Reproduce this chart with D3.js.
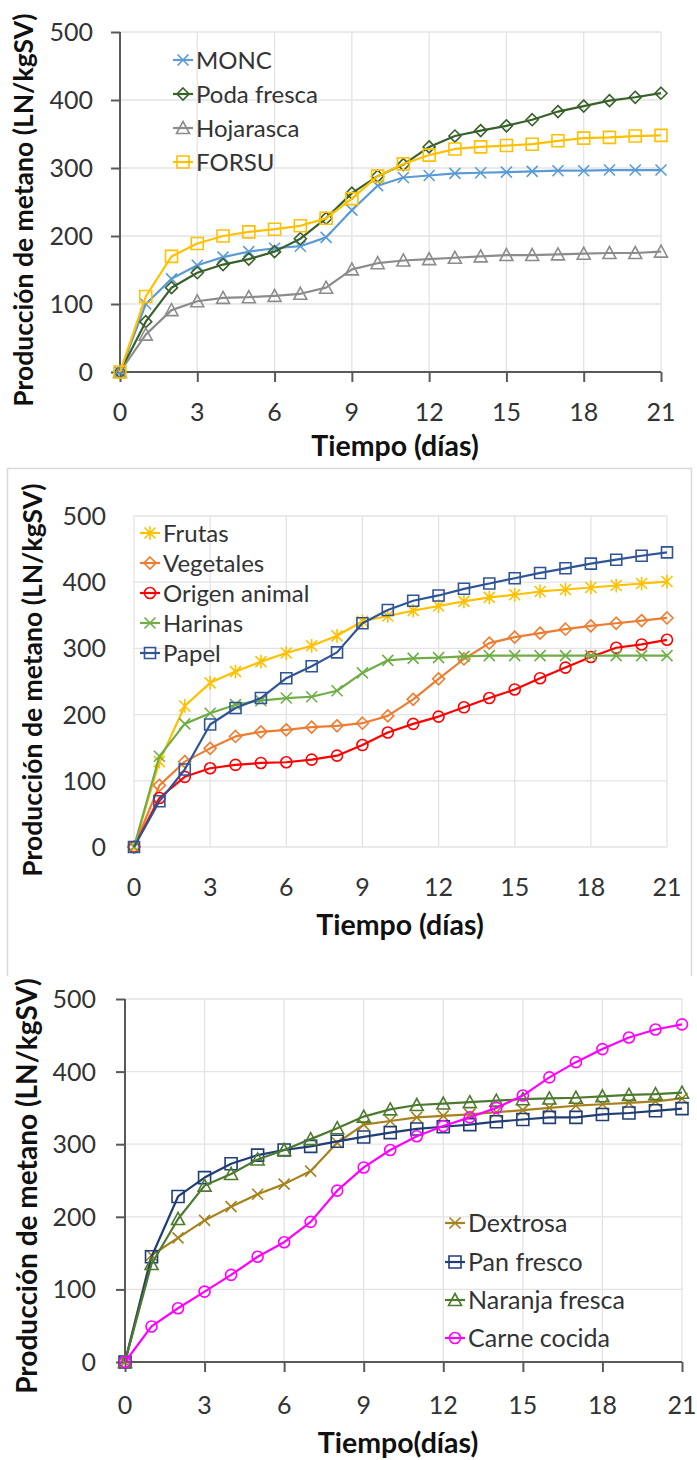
<!DOCTYPE html>
<html>
<head>
<meta charset="utf-8">
<script src="https://cdn.jsdelivr.net/npm/d3@7"></script>
<style>
  html, body { margin: 0; padding: 0; background: #fff; }
  svg { display: block; font-family: Lato, "Open Sans", sans-serif; }
</style>
</head>
<body>
<svg id="chart" width="697" height="1460"></svg>
<script>
// ---------- DATA ----------
const days = [0,1,2,3,4,5,6,7,8,9,10,11,12,13,14,15,16,17,18,19,20,21];
const xTicks = [0,3,6,9,12,15,18,21];
const yTicks = [0,100,200,300,400,500];

// Panel 1
const monc        = [0,100,137,157,169,177,182,185,198,238,274,286,289,292,293,294,295,296,296,297,297,297];
const podaFresca  = [0,74,124,146,158,166,177,196,226,263,288,305,331,347,355,362,371,383,391,399,404,410];
const hojarasca   = [0,55,91,104,109,110,112,115,124,151,160,164,166,168,170,172,172,173,174,175,175,177];
const forsu       = [0,111,170,189,200,206,210,215,226,255,288,306,319,328,331,333,335,340,344,345,347,348];

// Panel 2
const frutas       = [0,129,213,248,265,280,293,304,319,341,349,357,364,371,377,381,386,389,392,395,398,401];
const vegetales    = [0,93,129,149,167,174,177,181,183,187,198,223,254,284,308,317,323,329,334,338,342,346];
const origenAnimal = [0,74,106,119,124,127,128,132,138,154,173,186,197,211,225,238,255,271,287,301,306,313];
const harinas      = [0,137,186,202,215,221,225,227,236,263,282,285,286,288,289,289,289,289,289,289,289,289];
const papel        = [0,69,117,185,210,225,255,273,294,338,358,372,380,390,398,406,414,421,428,434,440,445];

// Panel 3
const dextrosa      = [0,147,171,195,214,231,245,263,302,327,332,337,339,341,344,347,350,353,355,357,359,363];
const panFresco     = [0,145,228,254,273,285,292,297,304,310,316,321,324,327,331,334,337,337,341,343,346,349];
const naranjaFresca = [0,135,197,243,259,279,292,307,322,338,348,354,356,358,360,362,363,364,366,368,369,371];
const carneCocida   = [0,49,74,97,120,145,165,193,236,268,292,311,325,337,350,367,392,413,431,447,458,465];

const yTitle = "Producción de metano (LN/kgSV)";

// ---------- DRAWING ----------
const svg = d3.select("#chart");

function markerPath(shape, r) {
  switch (shape) {
    case "square":   return `M${-r},${-r}H${r}V${r}H${-r}Z`;
    case "diamond":  return `M0,${-r}L${r},0L0,${r}L${-r},0Z`;
    case "triangle": return `M0,${-r}L${r},${r*0.85}L${-r},${r*0.85}Z`;
    case "circle":   return `M${r},0A${r},${r} 0 1,1 ${-r},0A${r},${r} 0 1,1 ${r},0Z`;
    case "x":        return `M${-r},${-r}L${r},${r}M${-r},${r}L${r},${-r}`;
    case "star":     return `M${-r},${-r}L${r},${r}M${-r},${r}L${r},${-r}M0,${-r*1.25}L0,${r*1.25}`;
  }
}

function drawPanel(p) {
  const g = svg.append("g");
  const x = d3.scaleLinear().domain([0, 21]).range([p.x0, p.x1]);
  const y = d3.scaleLinear().domain([0, 500]).range([p.y0, p.y1]);

  // gridlines
  g.append("g").selectAll("line").data(yTicks.filter(v => p.style === "light" || v > 0)).join("line")
    .attr("x1", p.x0).attr("x2", p.x1)
    .attr("y1", d => y(d)).attr("y2", d => y(d))
    .attr("stroke", "#e3e3e3").attr("stroke-width", 1.3);
  g.append("g").selectAll("line").data(xTicks.filter(v => p.style === "light" || v > 0)).join("line")
    .attr("x1", d => x(d)).attr("x2", d => x(d))
    .attr("y1", p.y0).attr("y2", p.y1)
    .attr("stroke", "#e3e3e3").attr("stroke-width", 1.3);

  if (p.style === "dark") {
    const yAxis = g.append("g").attr("transform", `translate(${p.x0},0)`)
      .call(d3.axisLeft(y).tickValues(yTicks).tickSize(9).tickFormat(""));
    const xAxis = g.append("g").attr("transform", `translate(0,${p.y0})`)
      .call(d3.axisBottom(x).tickValues(xTicks).tickSize(10).tickFormat(""));
    [yAxis, xAxis].forEach(a => {
      a.select(".domain").attr("stroke", "#595959").attr("stroke-width", 2);
      a.selectAll(".tick line").attr("stroke", "#595959").attr("stroke-width", 2);
    });
    xAxis.select(".domain").attr("d", `M${p.x0},0H${p.x1}`);
    yAxis.select(".domain").attr("d", `M0,${p.y0}V${p.y1}`);
  }

  // tick labels
  g.append("g").selectAll("text").data(yTicks).join("text")
    .attr("x", p.yLabelX).attr("y", d => y(d))
    .attr("dy", "0.36em").attr("text-anchor", "end")
    .attr("font-size", 25).attr("fill", "#333")
    .text(d => d);
  g.append("g").selectAll("text").data(xTicks).join("text")
    .attr("x", d => x(d)).attr("y", p.xLabelY)
    .attr("dy", "0.36em").attr("text-anchor", "middle")
    .attr("font-size", 25).attr("fill", "#333")
    .text(d => d);

  // titles
  g.append("text")
    .attr("x", p.xTitleX).attr("y", p.xTitleY).attr("dy", "0.36em")
    .attr("text-anchor", "middle").attr("font-size", 28.5).attr("font-weight", 700)
    .attr("fill", "#111").text(p.xTitle);
  g.append("text")
    .attr("transform", `translate(${p.yTitleX},${p.yTitleY}) rotate(-90)`)
    .attr("dy", "0.36em")
    .attr("text-anchor", "middle").attr("font-size", p.yTitleSize).attr("font-weight", 700)
    .attr("fill", "#111").text(yTitle);

  // series
  const line = d3.line().x((d, i) => x(days[i])).y(d => y(d));
  p.series.forEach(s => {
    const sg = g.append("g");
    sg.append("path").datum(s.values)
      .attr("d", line).attr("fill", "none")
      .attr("stroke", s.color).attr("stroke-width", 2.2).attr("stroke-linejoin", "round");
    sg.selectAll("path.m").data(s.values).join("path").attr("class", "m")
      .attr("transform", (d, i) => `translate(${x(days[i])},${y(d)})`)
      .attr("d", markerPath(s.shape, s.r))
      .attr("fill", "none").attr("stroke", s.color).attr("stroke-width", 1.6);
  });

  // legend
  const lg = g.append("g");
  p.series.forEach((s, i) => {
    const ly = p.legendRows[i];
    lg.append("line").attr("x1", p.legendX - 10).attr("x2", p.legendX + 10)
      .attr("y1", ly).attr("y2", ly).attr("stroke", s.color).attr("stroke-width", 2.2);
    lg.append("path").attr("transform", `translate(${p.legendX},${ly})`)
      .attr("d", markerPath(s.shape, s.r))
      .attr("fill", "none").attr("stroke", s.color).attr("stroke-width", 1.6);
    lg.append("text").attr("x", p.legendX + 13).attr("y", ly).attr("dy", "0.36em")
      .attr("font-size", p.legendSize).attr("fill", "#333").text(s.name);
  });
}

// Panel 2 outer frame
svg.append("path")
  .attr("d", "M7.5,976V468.5H691.5V976")
  .attr("fill", "none").attr("stroke", "#d9d9d9").attr("stroke-width", 1.5);

drawPanel({
  style: "dark", x0: 120, x1: 661, y0: 372, y1: 32,
  yLabelX: 93, xLabelY: 412, xTitle: "Tiempo (días)", xTitleX: 395, xTitleY: 446,
  yTitleX: 23, yTitleY: 210, yTitleSize: 26.5,
  legendX: 183, legendRows: [60, 94, 128, 162], legendSize: 24,
  series: [
    { name: "MONC", values: monc, color: "#5B9BD5", shape: "x", r: 5.5 },
    { name: "Poda fresca", values: podaFresca, color: "#38602A", shape: "diamond", r: 6 },
    { name: "Hojarasca", values: hojarasca, color: "#8C8C8C", shape: "triangle", r: 6.5 },
    { name: "FORSU", values: forsu, color: "#FFC000", shape: "square", r: 6 }
  ]
});

drawPanel({
  style: "light", x0: 134, x1: 667, y0: 847, y1: 516,
  yLabelX: 106, xLabelY: 887, xTitle: "Tiempo (días)", xTitleX: 400, xTitleY: 925,
  yTitleX: 32, yTitleY: 680, yTitleSize: 26.5,
  legendX: 150, legendRows: [533, 563, 593, 623, 653], legendSize: 24,
  series: [
    { name: "Frutas", values: frutas, color: "#FFC000", shape: "star", r: 5.5 },
    { name: "Vegetales", values: vegetales, color: "#ED7D31", shape: "diamond", r: 6 },
    { name: "Origen animal", values: origenAnimal, color: "#FF0000", shape: "circle", r: 5.5 },
    { name: "Harinas", values: harinas, color: "#70AD47", shape: "x", r: 5.5 },
    { name: "Papel", values: papel, color: "#2F5597", shape: "square", r: 5.5 }
  ]
});

drawPanel({
  style: "dark", x0: 125, x1: 682, y0: 1362, y1: 999,
  yLabelX: 96, xLabelY: 1405, xTitle: "Tiempo(días)", xTitleX: 398, xTitleY: 1443,
  yTitleX: 27, yTitleY: 1186, yTitleSize: 28,
  legendX: 455, legendRows: [1223, 1262, 1300, 1338], legendSize: 25,
  series: [
    { name: "Dextrosa", values: dextrosa, color: "#A5821E", shape: "x", r: 5.5 },
    { name: "Pan fresco", values: panFresco, color: "#203D75", shape: "square", r: 6 },
    { name: "Naranja fresca", values: naranjaFresca, color: "#4E7A2F", shape: "triangle", r: 6.5 },
    { name: "Carne cocida", values: carneCocida, color: "#FF00FF", shape: "circle", r: 5.5 }
  ]
});
</script>
</body>
</html>
